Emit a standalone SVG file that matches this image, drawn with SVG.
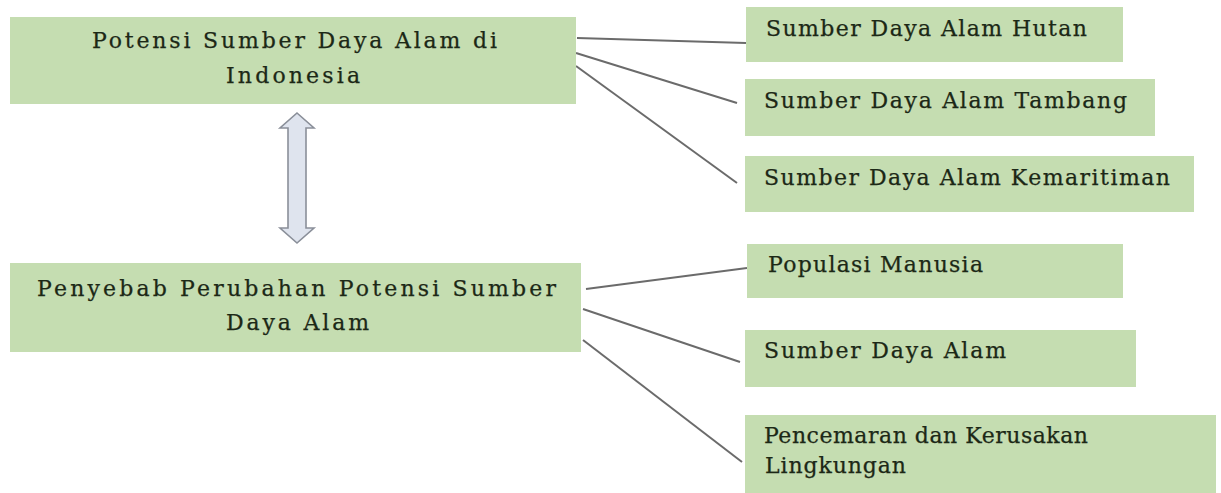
<svg xmlns="http://www.w3.org/2000/svg" width="1221" height="493" viewBox="0 0 1221 493">
<style>
.box{fill:#c5ddb1;}
.t{font-family:"DejaVu Serif","Liberation Serif",serif;font-size:22px;fill:#1c2816;stroke:#1c2816;stroke-width:0.25;}
.ln{stroke:#6b6b6b;stroke-width:2;fill:none;}
.dbl{fill:#dfe4ee;stroke:#8a8f99;stroke-width:1.6;stroke-linejoin:miter;}
</style>
<rect width="1221" height="493" fill="#ffffff"/>
<g id="connectors">
<line class="ln" x1="577" y1="38" x2="746" y2="43"/>
<line class="ln" x1="576" y1="53" x2="737" y2="103"/>
<line class="ln" x1="576" y1="66" x2="737" y2="183"/>
<line class="ln" x1="586" y1="289" x2="747" y2="268"/>
<line class="ln" x1="583" y1="309" x2="740" y2="362"/>
<line class="ln" x1="583" y1="340" x2="742" y2="462"/>
<path id="double-arrow" class="dbl" d="M297 113 L314 128 L306 128 L306 228 L314 228 L297 243 L280 228 L288 228 L288 128 L280 128 Z"/>
</g>
<g id="node-potensi">
<rect class="box" x="10" y="17" width="566" height="87"/>
<text class="t" x="92" y="48" textLength="405" lengthAdjust="spacing">Potensi Sumber Daya Alam di</text>
<text class="t" x="226" y="83" textLength="134" lengthAdjust="spacing">Indonesia</text>
</g>
<g id="node-penyebab">
<rect class="box" x="10" y="263" width="571" height="89"/>
<text class="t" x="37" y="296" textLength="519" lengthAdjust="spacing">Penyebab Perubahan Potensi Sumber</text>
<text class="t" x="226" y="330" textLength="143" lengthAdjust="spacing">Daya Alam</text>
</g>
<g id="node-hutan">
<rect class="box" x="746" y="7" width="377" height="55"/>
<text class="t" x="766" y="36" textLength="321" lengthAdjust="spacing">Sumber Daya Alam Hutan</text>
</g>
<g id="node-tambang">
<rect class="box" x="745" y="79" width="410" height="57"/>
<text class="t" x="764" y="108" textLength="363" lengthAdjust="spacing">Sumber Daya Alam Tambang</text>
</g>
<g id="node-kemaritiman">
<rect class="box" x="745" y="156" width="449" height="56"/>
<text class="t" x="764" y="185" textLength="406" lengthAdjust="spacing">Sumber Daya Alam Kemaritiman</text>
</g>
<g id="node-populasi">
<rect class="box" x="747" y="244" width="376" height="54"/>
<text class="t" x="768" y="272" textLength="215" lengthAdjust="spacing">Populasi Manusia</text>
</g>
<g id="node-sda">
<rect class="box" x="745" y="330" width="391" height="57"/>
<text class="t" x="764" y="358" textLength="242" lengthAdjust="spacing">Sumber Daya Alam</text>
</g>
<g id="node-pencemaran">
<rect class="box" x="745" y="415" width="471" height="78"/>
<text class="t" x="764" y="443" textLength="324" lengthAdjust="spacing">Pencemaran dan Kerusakan</text>
<text class="t" x="765" y="473" textLength="141" lengthAdjust="spacing">Lingkungan</text>
</g>
</svg>
